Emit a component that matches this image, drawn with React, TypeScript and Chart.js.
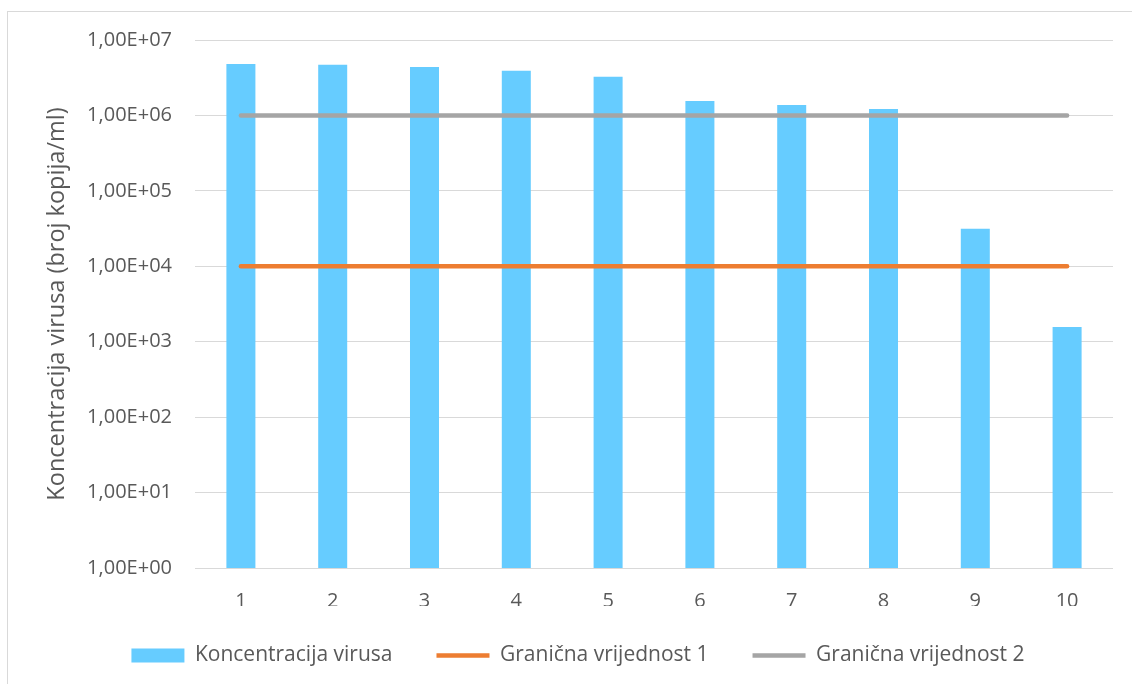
import React, { useEffect, useRef } from "react";
import { Chart, registerables } from "chart.js";

Chart.register(...registerables);

const categories = ["1", "2", "3", "4", "5", "6", "7", "8", "9", "10"];
const concentration = [4.8e6, 4.7e6, 4.4e6, 3.9e6, 3.25e6, 1.55e6, 1.37e6, 1.22e6, 3.15e4, 1.57e3];
const limit1 = [1e4, 1e4, 1e4, 1e4, 1e4, 1e4, 1e4, 1e4, 1e4, 1e4];
const limit2 = [1e6, 1e6, 1e6, 1e6, 1e6, 1e6, 1e6, 1e6, 1e6, 1e6];
const yTickValues = [1, 10, 100, 1000, 1e4, 1e5, 1e6, 1e7];
const yTickLabels = ["1,00E+00", "1,00E+01", "1,00E+02", "1,00E+03", "1,00E+04", "1,00E+05", "1,00E+06", "1,00E+07"];

const FONT = "'Open Sans', 'Noto Sans', sans-serif";
const TEXT = "#595959";
const GRID = "#D9D9D9";

// Keep the legend's horizontal item spacing while limiting its vertical footprint.
const legendHeightPlugin = {
  id: "legendHeight",
  beforeLayout(chart: any) {
    const legend = chart.legend;
    if (legend && !legend.__patched) {
      const orig = legend.fit.bind(legend);
      legend.fit = function () {
        orig();
        this.height = 68;
      };
      legend.__patched = true;
    }
  },
  afterLayout(chart: any) {
    const legend = chart.legend;
    if (legend) {
      legend.top = 601;
      legend.bottom = legend.top + legend.height;
    }
  },
};

export default function App() {
  const ref = useRef<HTMLCanvasElement | null>(null);

  useEffect(() => {
    if (!ref.current) return;
    const chart = new Chart(ref.current, {
      type: "bar",
      data: {
        labels: categories,
        datasets: [
          {
            type: "bar",
            label: "Koncentracija virusa",
            data: concentration,
            backgroundColor: "#66CCFF",
            borderWidth: 0,
            barPercentage: 0.316,
            categoryPercentage: 1,
            pointStyle: "rect",
            order: 2,
          } as any,
          {
            type: "line",
            label: "Granična vrijednost 1",
            data: limit1,
            borderColor: "#ED7D31",
            backgroundColor: "#ED7D31",
            borderWidth: 4.5,
            borderCapStyle: "round",
            pointRadius: 0,
            pointHoverRadius: 0,
            pointStyle: "line",
            order: 1,
          } as any,
          {
            type: "line",
            label: "Granična vrijednost 2",
            data: limit2,
            borderColor: "#A5A5A5",
            backgroundColor: "#A5A5A5",
            borderWidth: 4.5,
            borderCapStyle: "round",
            pointRadius: 0,
            pointHoverRadius: 0,
            pointStyle: "line",
            order: 1,
          } as any,
        ],
      },
      plugins: [legendHeightPlugin],
      options: {
        responsive: false,
        animation: false,
        layout: { padding: { left: 43, right: 19, top: 40, bottom: 10 } },
        plugins: {
          tooltip: { enabled: false },
          legend: {
            position: "bottom",
            labels: {
              usePointStyle: true,
              pointStyleWidth: 53,
              boxHeight: 14,
              padding: 44,
              color: TEXT,
              font: { family: FONT, size: 21 },
              sort: (a: any, b: any) => a.datasetIndex - b.datasetIndex,
            },
          },
        },
        scales: {
          x: {
            grid: { display: false },
            border: { display: false },
            afterFit: (scale: any) => {
              scale.height = 38;
            },
            ticks: { color: TEXT, font: { family: FONT, size: 20 }, padding: 13 },
          },
          y: {
            type: "logarithmic",
            min: 1,
            max: 1e7,
            afterBuildTicks: (scale: any) => {
              scale.ticks = yTickValues.map((v) => ({ value: v }));
            },
            afterFit: (scale: any) => {
              scale.width = 152;
            },
            grid: { color: GRID, lineWidth: 1, drawTicks: false },
            border: { display: false },
            ticks: {
              color: TEXT,
              font: { family: FONT, size: 20 },
              padding: 23,
              callback: (_v: any, i: number) => yTickLabels[i],
            },
            title: {
              display: true,
              text: "Koncentracija virusa (broj kopija/ml)",
              color: TEXT,
              font: { family: FONT, size: 23.5 },
              padding: 0,
            },
          },
        },
      },
    });
    return () => chart.destroy();
  }, []);

  return (
    <div style={{ position: "absolute", left: 0, top: 0, width: 1132, height: 684, background: "#fff", overflow: "hidden" }}>
      <div
        style={{
          position: "absolute",
          left: 7,
          top: 11,
          width: 1200,
          height: 760,
          border: "1px solid #D9D9D9",
          boxSizing: "border-box",
        }}
      />
      <canvas ref={ref} width={1132} height={684} style={{ position: "absolute", left: 0, top: 0 }} />
    </div>
  );
}
